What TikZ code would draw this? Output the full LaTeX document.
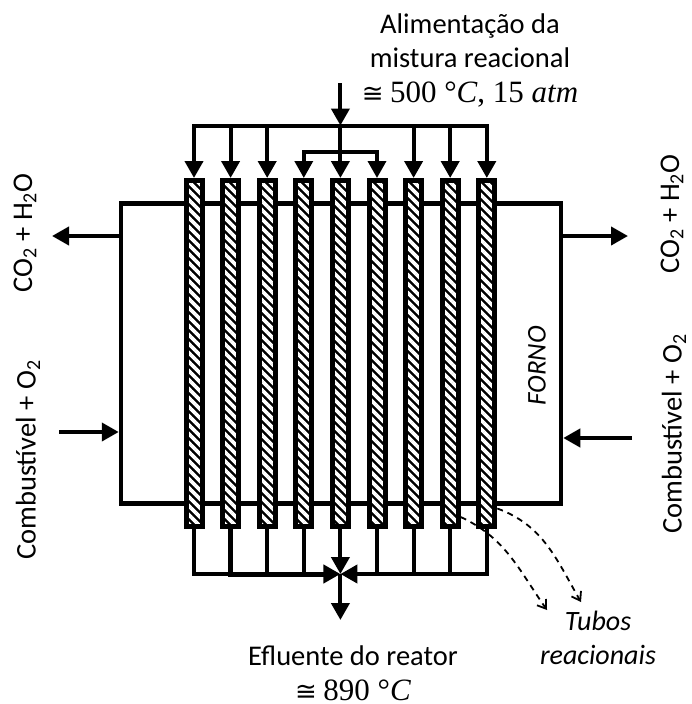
\documentclass[tikz,border=0pt]{standalone}
\usepackage{fontspec}
\setmainfont{Carlito}
\newfontfamily\mathlike{Liberation Serif}
\newfontfamily\symfont{DejaVu Sans}
\usetikzlibrary{arrows.meta,positioning,patterns.meta}
\newcommand{\vr}[1]{{\mathlike\itshape #1}}
\newcommand{\apx}{{\symfont\fontsize{26}{26}\selectfont ≅}}
\newcommand{\valtxt}{\mathlike\fontsize{31}{34}\selectfont}
\tikzset{
  furn/.style ={rectangle,draw,line width=4.5pt,
                 minimum width=440pt,minimum height=300pt},
  tube/.style ={rectangle,draw,line width=5pt,
                 minimum width=16pt,minimum height=346pt,inner sep=0pt,
                 preaction={fill=black},
                 preaction={pattern={Lines[angle=-45,distance=6.364pt,line width=3.6pt]},
                             pattern color=white}},
  sig/.style  ={-{Triangle[length=17pt,width=18pt]},line width=4pt},
  sigf/.style ={sig,line width=3.5pt},
  pipe/.style ={line width=4pt},
  dsh/.style  ={-{Straight Barb[length=8pt,width=11pt]},line width=1.8pt,
                 dash pattern=on 6pt off 5pt},
  lbl/.style  ={font=\fontsize{28.5}{34.5}\selectfont,align=center,inner sep=0pt},
}

\begin{document}
\begin{tikzpicture}[x=1pt,y=-1pt]
  \useasboundingbox (0,0) rectangle (692,704);
  % nodes
  \node[furn] (furn) at (341,353.5) {};
  \node[tube] (t1) at (194,353.5) {};
  \node[tube,right=15.6pt of t1] (t2) {};
  \node[tube,right=15.6pt of t2] (t3) {};
  \node[tube,right=15.6pt of t3] (t4) {};
  \node[tube,right=15.6pt of t4] (t5) {};
  \node[tube,right=15.6pt of t5] (t6) {};
  \node[tube,right=15.6pt of t6] (t7) {};
  \node[tube,right=15.6pt of t7] (t8) {};
  \node[tube,right=15.6pt of t8] (t9) {};
  \coordinate (feed) at (t5 |- 0,83);
  \coordinate (hdr)  at (t5 |- 0,125.5);
  \coordinate (hin)  at (t5 |- 0,152);
  \coordinate (mix)  at (t5 |- 0,574);
  \coordinate (out)  at (t5 |- 0,620);
  \coordinate (flueout) at (52,236);
  \coordinate (fuelin) at (59,432);
  \coordinate (flueoutr) at (628,236);
  \coordinate (fuelinr) at (632,438);
  \coordinate (dsha) at (547,610);
  \coordinate (dshb) at (581,602);
  % labels
  \node[lbl] (lfeed) at (470,60) {Alimentação da\\mistura reacional\\\apx{} {\valtxt 500 °\vr{C}, 15 \vr{atm}}};
  \node[lbl] (lout) at (353,673) {Efluente do reator\\\apx{} {\valtxt 890 °\vr{C}}};
  \node[lbl,rotate=90] (lco) at (25,233) {CO\textsubscript{2} + H\textsubscript{2}O};
  \node[lbl,rotate=90] (lcor) at (672,214) {CO\textsubscript{2} + H\textsubscript{2}O};
  \node[lbl,rotate=90] (lfuel) at (28,460) {Combustível + O\textsubscript{2}};
  \node[lbl,rotate=90] (lfuelr) at (674,434) {Combustível + O\textsubscript{2}};
  \node[lbl,rotate=90,font=\fontsize{27}{30}\selectfont\itshape] (lforno) at (537,366) {FORNO};
  \node[lbl,font=\fontsize{28}{34}\selectfont\itshape] (ltub) at (598,638) {Tubos\\reacionais};
  % feed -> header
  \draw[sig] (feed) -- (hdr);
  % header -> outer tubes
  \draw[sig] (hdr) -| (t1.north);
  \draw[sig] (hdr -| t2) -- (t2.north);
  \draw[sig] (hdr -| t3) -- (t3.north);
  \draw[sig] (hdr -| t7) -- (t7.north);
  \draw[sig] (hdr -| t8) -- (t8.north);
  \draw[sig] (hdr) -| (t9.north);
  % inner header -> middle tubes
  \draw[sig] (hdr) -- (t5.north);
  \draw[sigf] (hin) -| (t4.north);
  \draw[sigf] (hin) -| (t6.north);
  % tubes -> collector
  \draw[pipe] (t1.south) |- (t2 |- mix);
  \draw[sig,line width=5pt] (t2.south) -- (t2 |- mix) -- (mix);
  \draw[pipe] (t3.south) -- (t3 |- mix);
  \draw[pipe] (t4.south) -- (t4 |- mix);
  \draw[sig] (t9.south) |- (mix);
  \draw[pipe] (t6.south) -- (t6 |- mix);
  \draw[pipe] (t7.south) -- (t7 |- mix);
  \draw[pipe] (t8.south) -- (t8 |- mix);
  \draw[sig] (t5.south) -- (mix);
  \draw[sig] (mix) -- (out);
  % furnace streams
  \draw[sig] (furn.west |- flueout) -- (flueout);
  \draw[sig] (fuelin) -- (fuelin -| furn.west);
  \draw[sig] (furn.east |- flueoutr) -- (flueoutr);
  \draw[sig] (fuelinr) -- (fuelinr -| furn.east);
  % pointers to the tubes
  \draw[dsh] (t8.south east) ++(0,-12) to[out=-25,in=125] (dsha);
  \draw[dsh] (t9.east) ++(0,155) to[out=-20,in=120] (dshb);
\end{tikzpicture}
\end{document}
